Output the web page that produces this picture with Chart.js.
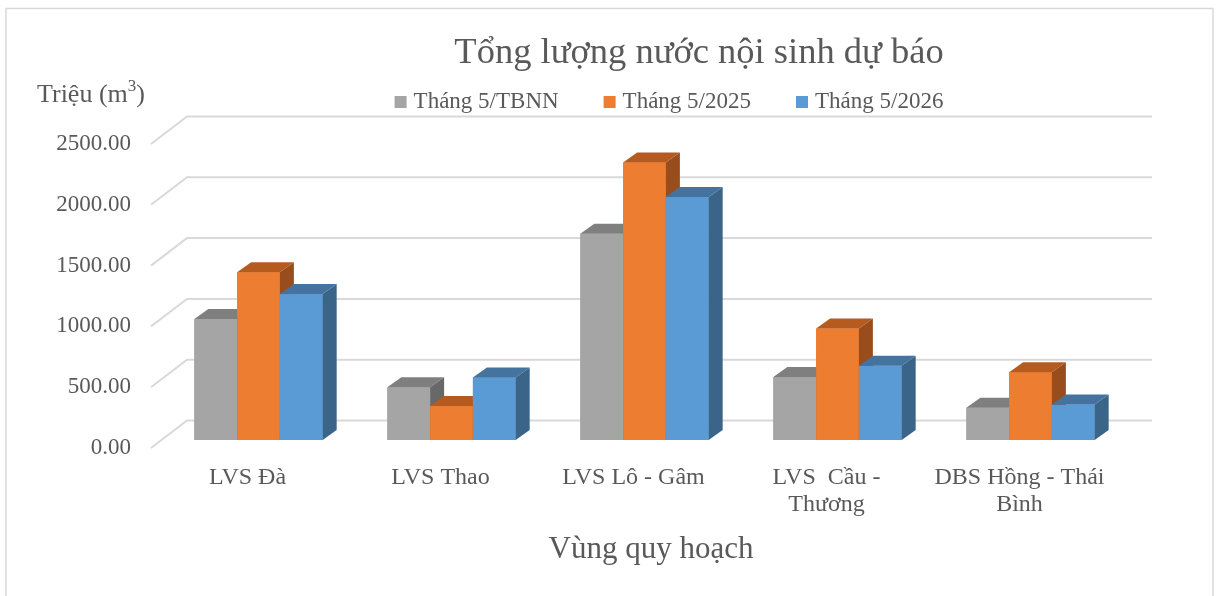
<!DOCTYPE html>
<html>
<head>
<meta charset="utf-8">
<script src="https://cdn.jsdelivr.net/npm/chart.js@4/dist/chart.umd.min.js"></script>
<style>
html,body{margin:0;padding:0;background:#fff;}
#wrap{width:1216px;height:596px;position:relative;}
</style>
</head>
<body>
<div id="wrap"><canvas id="c" width="1216" height="596"></canvas></div>
<script>
const categories = ["LVS Đà", "LVS Thao", "LVS Lô - Gâm", ["LVS  Cầu -", "Thương"], ["DBS Hồng - Thái", "Bình"]];
const seriesNames = ["Tháng 5/TBNN", "Tháng 5/2025", "Tháng 5/2026"];
const tbnn = [995, 433, 1697, 518, 266];
const thang2025 = [1379, 280, 2282, 916, 558];
const thang2026 = [1200, 515, 1998, 611, 291];
const yTicks = [0, 500, 1000, 1500, 2000, 2500];
const titleText = "Tổng lượng nước nội sinh dự báo";
const yTitle = "Triệu (m";
const xTitle = "Vùng quy hoạch";

const FRONT = ["#A5A5A5", "#ED7D31", "#5B9BD5"];
const TOP = ["#7F7F7F", "#B65B20", "#44739F"];
const SIDE = ["#686868", "#9A4D1C", "#3A6589"];
const TXT = "#595959";
const GRID = "#D9D9D9";
const SERIF = "'Liberation Serif', 'Times New Roman', serif";

// oblique projection offsets
const BACK = {dx: 25, dy: -19.5};   // back wall relative to bar front plane
const FLOOR = {dx: -11, dy: 8};     // front floor edge relative to bar front plane
const DEPTH = {dx: 14, dy: -10};    // bar depth

const decor = {
  id: 'decor',
  beforeDatasetsDraw(chart) {
    const ctx = chart.ctx, y = chart.scales.y, a = chart.chartArea;
    ctx.save();
    // outer frame
    ctx.strokeStyle = GRID; ctx.lineWidth = 1.5;
    ctx.strokeRect(6, 8.5, 1207, 620);
    // back wall gridlines + floor diagonals
    ctx.strokeStyle = GRID; ctx.lineWidth = 2;
    yTicks.forEach(v => {
      const py = y.getPixelForValue(v);
      ctx.beginPath();
      ctx.moveTo(a.left + FLOOR.dx, py + FLOOR.dy);
      ctx.lineTo(a.left + BACK.dx, py + BACK.dy);
      ctx.lineTo(a.right + BACK.dx, py + BACK.dy);
      ctx.stroke();
    });
    // y tick labels
    ctx.fillStyle = TXT;
    ctx.font = "23px " + SERIF;
    ctx.textAlign = "right"; ctx.textBaseline = "middle";
    yTicks.forEach(v => {
      ctx.fillText(v.toFixed(2), 131, y.getPixelForValue(v) + FLOOR.dy);
    });
    // title
    ctx.textAlign = "center"; ctx.textBaseline = "alphabetic";
    ctx.font = "36.5px " + SERIF;
    ctx.fillText(titleText, 699, 63);
    // y axis title with superscript
    ctx.textAlign = "left";
    ctx.font = "26px " + SERIF;
    let x0 = 37;
    ctx.fillText(yTitle, x0, 102);
    x0 += ctx.measureText(yTitle).width;
    ctx.font = "17px " + SERIF;
    ctx.fillText("3", x0, 91);
    x0 += ctx.measureText("3").width;
    ctx.font = "26px " + SERIF;
    ctx.fillText(")", x0, 102);
    // legend
    ctx.font = "23px " + SERIF;
    const widths = seriesNames.map(s => ctx.measureText(s).width);
    const gap = 45, box = 12, pad = 7;
    let total = widths.reduce((s, w) => s + box + pad + w, 0) + gap * (seriesNames.length - 1);
    let lx = 669 - total / 2;
    seriesNames.forEach((s, i) => {
      ctx.fillStyle = FRONT[i];
      ctx.fillRect(lx, 96, box, box);
      ctx.fillStyle = TXT;
      ctx.fillText(s, lx + box + pad, 108);
      lx += box + pad + widths[i] + gap;
    });
    // x labels
    const xs = chart.scales.x;
    ctx.textAlign = "center";
    ctx.font = "24px " + SERIF;
    categories.forEach((c, i) => {
      const px = xs.getPixelForValue(i) - 11;
      const lines = Array.isArray(c) ? c : [c];
      lines.forEach((l, k) => ctx.fillText(l, px, 484 + k * 27));
    });
    // x axis title
    ctx.font = "31px " + SERIF;
    ctx.fillText(xTitle, 651, 558);
    ctx.restore();
  },
  afterDatasetsDraw(chart) {
    const ctx = chart.ctx;
    const n = chart.data.labels.length;
    ctx.save();
    for (let i = 0; i < n; i++) {
      chart.data.datasets.forEach((ds, j) => {
        const el = chart.getDatasetMeta(j).data[i];
        const w = el.width, l = el.x - w / 2, r = el.x + w / 2;
        const t = el.y, b = el.base;
        // front face
        ctx.fillStyle = FRONT[j];
        ctx.fillRect(l, t, w, b - t);
        // top face
        ctx.fillStyle = TOP[j];
        ctx.beginPath();
        ctx.moveTo(l, t); ctx.lineTo(r, t);
        ctx.lineTo(r + DEPTH.dx, t + DEPTH.dy); ctx.lineTo(l + DEPTH.dx, t + DEPTH.dy);
        ctx.closePath(); ctx.fill();
        // side face
        ctx.fillStyle = SIDE[j];
        ctx.beginPath();
        ctx.moveTo(r, t); ctx.lineTo(r + DEPTH.dx, t + DEPTH.dy);
        ctx.lineTo(r + DEPTH.dx, b + DEPTH.dy); ctx.lineTo(r, b);
        ctx.closePath(); ctx.fill();
      });
    }
    ctx.restore();
  }
};

new Chart(document.getElementById('c'), {
  type: 'bar',
  data: {
    labels: categories,
    datasets: [
      {label: seriesNames[0], data: tbnn, backgroundColor: FRONT[0]},
      {label: seriesNames[1], data: thang2025, backgroundColor: FRONT[1]},
      {label: seriesNames[2], data: thang2026, backgroundColor: FRONT[2]}
    ]
  },
  options: {
    responsive: false,
    animation: false,
    devicePixelRatio: 1,
    layout: {padding: {left: 162, right: 89, top: 136, bottom: 156}},
    datasets: {bar: {categoryPercentage: 0.665, barPercentage: 1.0, borderWidth: 0}},
    scales: {
      x: {display: false},
      y: {display: false, min: 0, max: 2500}
    },
    plugins: {legend: {display: false}, title: {display: false}, tooltip: {enabled: false}}
  },
  plugins: [decor]
});
</script>
</body>
</html>
